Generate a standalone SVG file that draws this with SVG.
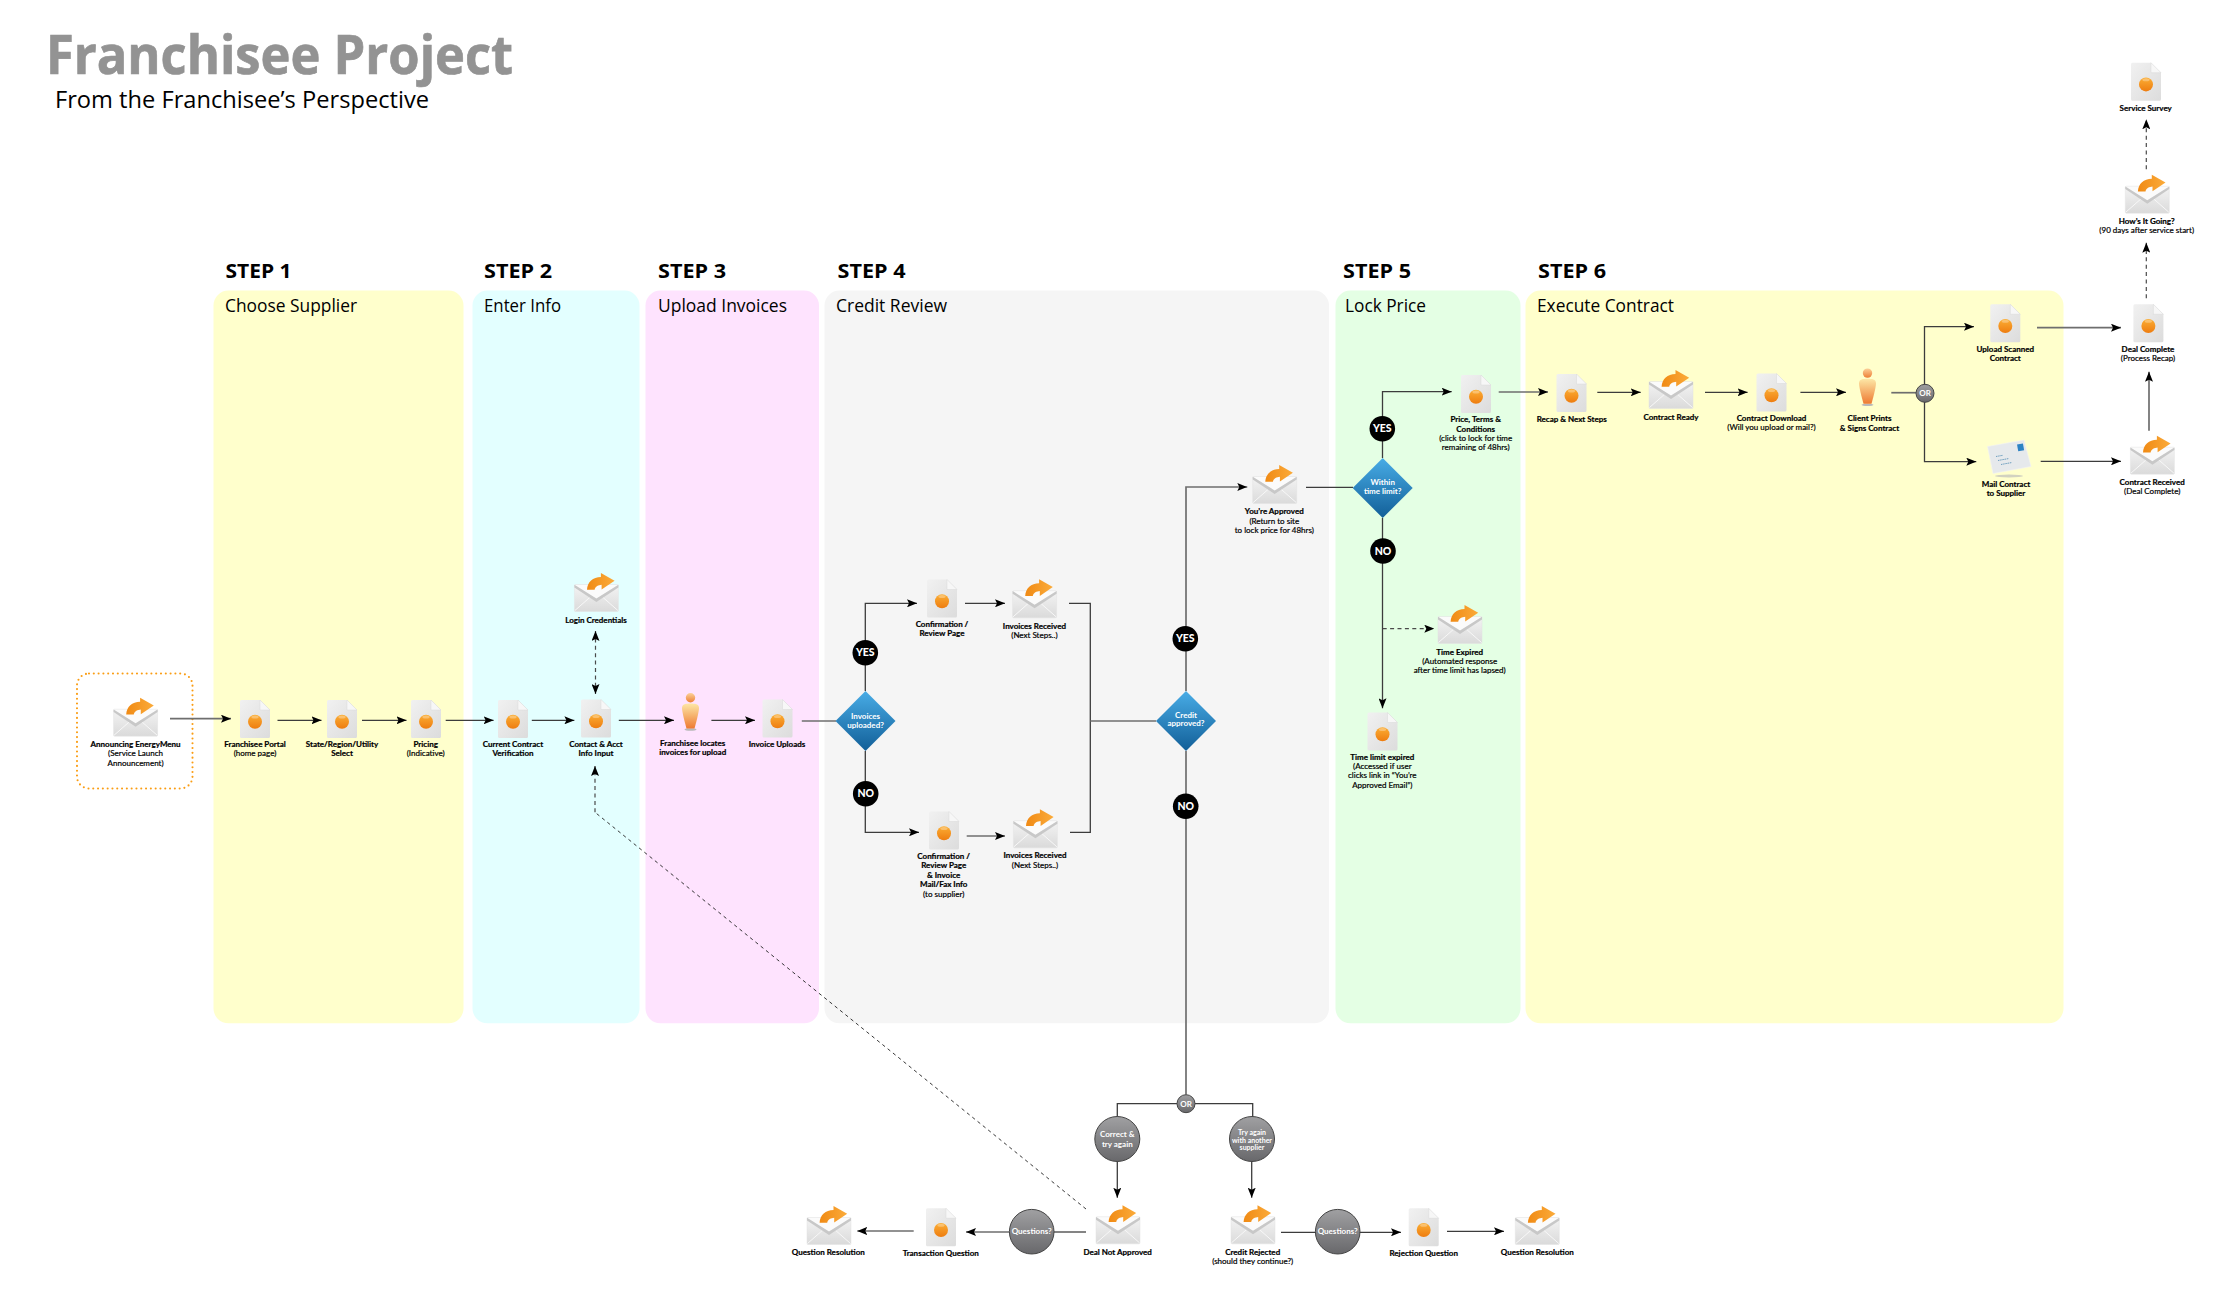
<svg xmlns="http://www.w3.org/2000/svg" xmlns:xlink="http://www.w3.org/1999/xlink" width="2236" height="1292" viewBox="0 0 2236 1292">
<style>
text{font-family:"Lato","Liberation Sans",sans-serif;fill:#000}
.l{font-size:8px;font-weight:700;text-anchor:middle;stroke:#000;stroke-width:.2}
.s{font-size:8px;font-weight:400;text-anchor:middle;stroke:#000;stroke-width:.2}
.w{font-size:8px;font-weight:700;text-anchor:middle;fill:#fff}
.bw{font-size:10.5px;font-weight:900;text-anchor:middle;fill:#fff}
.h{font-family:"Open Sans","Noto Sans",sans-serif;font-size:20px;font-weight:700}
.t{font-family:"Open Sans","Noto Sans",sans-serif;font-size:18.5px;font-weight:400}
.c{fill:none;stroke:#3c3c3c;stroke-width:1.3}
.b{fill:none;stroke:#6e6e6e;stroke-width:1.7}
.d{fill:none;stroke:#4a4a4a;stroke-width:1.2;stroke-dasharray:4 3.4}
.dd{fill:none;stroke:#222;stroke-width:.9;stroke-dasharray:3.4 3.4}
.a{marker-end:url(#arrow)}
.aa{marker-end:url(#arrow);marker-start:url(#arrowS)}
.yn{fill:#000}
.gc{fill:url(#gGray);stroke:#444;stroke-width:1}
.dm{fill:url(#gBlue)}
</style>
<defs>
<linearGradient id="gEnv" x1="0" y1="0" x2="0" y2="1"><stop offset="0" stop-color="#f4f4f4"/><stop offset="1" stop-color="#dadada"/></linearGradient>
<linearGradient id="gDoc" x1="0" y1="0" x2="1" y2="1"><stop offset="0" stop-color="#f1f1f1"/><stop offset="1" stop-color="#dcdcdc"/></linearGradient>
<linearGradient id="gOr" x1="0" y1="0" x2="0" y2="1"><stop offset="0" stop-color="#fbae35"/><stop offset="1" stop-color="#ee7d10"/></linearGradient>
<linearGradient id="gArr" x1="0" y1="0" x2="1" y2="0"><stop offset="0" stop-color="#f08a14"/><stop offset="1" stop-color="#fbab3a"/></linearGradient>
<linearGradient id="gBlue" x1="0" y1="0" x2="0" y2="1"><stop offset="0" stop-color="#48ace6"/><stop offset="1" stop-color="#125f98"/></linearGradient>
<linearGradient id="gGray" x1="0" y1="0" x2="0" y2="1"><stop offset="0" stop-color="#a0a0a2"/><stop offset="1" stop-color="#68686b"/></linearGradient>
<linearGradient id="gBody" x1="0" y1="0" x2="0" y2="1"><stop offset="0" stop-color="#fde7a6"/><stop offset="1" stop-color="#ee7a32"/></linearGradient>
<linearGradient id="gHead" x1="0" y1="0" x2="0" y2="1"><stop offset="0" stop-color="#fbd199"/><stop offset="1" stop-color="#ee7f35"/></linearGradient>
<marker id="arrow" viewBox="0 0 10 8" refX="10" refY="4" markerWidth="10" markerHeight="8" markerUnits="userSpaceOnUse" orient="auto"><path d="M0,0L10,4L0,8L2,4z" fill="#000"/></marker>
<marker id="arrowS" viewBox="0 0 10 8" refX="0" refY="4" markerWidth="10" markerHeight="8" markerUnits="userSpaceOnUse" orient="auto"><path d="M10,0L0,4L10,8L8,4z" fill="#000"/></marker>
<g id="env">
<rect x="0" y="11.5" width="44" height="27" rx="1" fill="url(#gEnv)" stroke="#e2e2e2" stroke-width=".5"/>
<path d="M.5,12L22,26L43.5,12z" fill="#fbfbfb"/>
<path d="M.5,37.5L17,23M43.5,37.5L27,23" fill="none" stroke="#f8f8f8" stroke-width="1"/>
<path d="M0,11.7L22,25.5L44,11.7V14.4L22,29L0,14.4z" fill="#c8c8c8"/>
<path d="M12.6,16.8C13,9 18.5,4.2 26.5,4V0L40.2,7.8L27.2,16.6V11.8C24,12 21,13.5 20.2,16.8z" fill="url(#gArr)"/>
</g>
<g id="doc">
<path d="M1.5,0H20L30,10V36.5a1.5,1.5 0 0 1-1.5,1.5H1.5A1.5,1.5 0 0 1 0,36.5V1.5A1.5,1.5 0 0 1 1.5,0z" fill="url(#gDoc)"/>
<path d="M20,0L30,10H20z" fill="#f7f7f7" stroke="#d8d8d8" stroke-width=".5"/>
<circle cx="15" cy="21.7" r="7" fill="url(#gOr)"/>
<ellipse cx="15" cy="17" rx="3.6" ry="1.5" fill="#fff" opacity=".3"/>
</g>
<g id="person">
<ellipse cx="8.5" cy="36.5" rx="6" ry="1.3" fill="#b9b9b9"/>
<circle cx="8.5" cy="4.8" r="4.7" fill="url(#gHead)"/>
<path d="M0,15C0,11 4,10.5 8.5,10.5S17,11 17,15C17,19 14,30 12.5,35.5H4.5C3,30 0,19 0,15z" fill="url(#gBody)"/>
</g>
</defs>
<rect width="2236" height="1292" fill="#fff"/>

<g id="title">
<text x="46" y="74" font-size="54.6" font-weight="700" style="fill:#939393;stroke:#939393;stroke-width:.7;font-family:'Open Sans','Noto Sans',sans-serif" textLength="467" lengthAdjust="spacingAndGlyphs">Franchisee Project</text>
<text x="55" y="108.3" font-size="23.5" style="font-family:'Open Sans','Noto Sans',sans-serif" textLength="374" lengthAdjust="spacingAndGlyphs">From the Franchisee’s Perspective</text>
</g>

<g id="panels">
<rect x="213.5" y="290.5" width="250" height="732.8" rx="15" fill="#ffffcc"/>
<rect x="472.5" y="290.5" width="167" height="732.8" rx="15" fill="#e3ffff"/>
<rect x="645.5" y="290.5" width="173.5" height="732.8" rx="15" fill="#fee3fe"/>
<rect x="824.5" y="290.5" width="504.5" height="732.8" rx="15" fill="#f5f5f5"/>
<rect x="1335.5" y="290.5" width="185" height="732.8" rx="15" fill="#e4ffe4"/>
<rect x="1525.5" y="290.5" width="538" height="732.8" rx="15" fill="#ffffcc"/>
<text class="h" x="225.5" y="277.5" textLength="66" lengthAdjust="spacingAndGlyphs">STEP 1</text>
<text class="h" x="484" y="277.5" textLength="68" lengthAdjust="spacingAndGlyphs">STEP 2</text>
<text class="h" x="658" y="277.5" textLength="68" lengthAdjust="spacingAndGlyphs">STEP 3</text>
<text class="h" x="837.5" y="277.5" textLength="68" lengthAdjust="spacingAndGlyphs">STEP 4</text>
<text class="h" x="1343" y="277.5" textLength="68" lengthAdjust="spacingAndGlyphs">STEP 5</text>
<text class="h" x="1538" y="277.5" textLength="68" lengthAdjust="spacingAndGlyphs">STEP 6</text>
<text class="t" x="225" y="311.7" textLength="132" lengthAdjust="spacingAndGlyphs">Choose Supplier</text>
<text class="t" x="484" y="311.7" textLength="77" lengthAdjust="spacingAndGlyphs">Enter Info</text>
<text class="t" x="658" y="311.7" textLength="129" lengthAdjust="spacingAndGlyphs">Upload Invoices</text>
<text class="t" x="836" y="311.7" textLength="111" lengthAdjust="spacingAndGlyphs">Credit Review</text>
<text class="t" x="1345" y="311.7" textLength="81" lengthAdjust="spacingAndGlyphs">Lock Price</text>
<text class="t" x="1537" y="311.7" textLength="137" lengthAdjust="spacingAndGlyphs">Execute Contract</text>
</g>

<rect id="start-frame" x="77" y="673.5" width="115.5" height="115" rx="12" fill="none" stroke="#fa9d14" stroke-width="2.1" stroke-linecap="round" stroke-dasharray="0 4.8"/>

<g id="connectors">
<path class="b a" d="M170,718.7H231"/>
<path class="c a" d="M277.5,720.3H321.5"/>
<path class="c a" d="M362,720.3H406.5"/>
<path class="c a" d="M445.7,720.3H493.6"/>
<path class="c a" d="M531.8,720.3H574.4"/>
<path class="d aa" d="M595.5,631V694"/>
<path class="c a" d="M618.8,720.3H674"/>
<path class="c a" d="M711.4,720.3H755"/>
<path class="b" d="M801.8,721H836"/>
<path class="c a" d="M865.3,691V603.3H917"/>
<path class="c a" d="M865.3,751V832.3H919"/>
<path class="c a" d="M965,603.3H1005"/>
<path class="b a" d="M966.7,836H1005"/>
<path class="c" d="M1069,603.3H1090.3V832.3H1070"/>
<path class="b" d="M1090.3,721H1156"/>
<path class="b a" d="M1186,691V487H1247.3"/>
<path class="b" d="M1186,751V1094.5"/>
<path class="c" d="M1306,487.3H1353"/>
<path class="c a" d="M1382.5,458V391.7H1451.7"/>
<path class="c a" d="M1382.5,518V708.3"/>
<path class="d a" d="M1382.7,628.7H1434.3"/>
<path class="b a" d="M1498.7,392H1548"/>
<path class="c a" d="M1597.3,392.3H1640.7"/>
<path class="c a" d="M1705,392.3H1747.6"/>
<path class="c a" d="M1800.4,392.3H1846"/>
<path class="b" d="M1891.3,392.7H1916"/>
<path class="c a" d="M1924.5,384.5V326.7H1974"/>
<path class="c a" d="M1924.5,402V461.7H1976.3"/>
<path class="c a" d="M2040.7,461.3H2121"/>
<path class="b a" d="M2037,327.7H2121"/>
<path class="b a" d="M2149,430.7V371.7"/>
<path class="d a" d="M2146.3,298.3V242.7"/>
<path class="d a" d="M2146.3,169.3V119.3"/>
<path class="c" d="M1177,1103.7H1117.3V1117"/>
<path class="c" d="M1195,1103.7H1252.7V1117"/>
<path class="c a" d="M1117.3,1161V1197.7"/>
<path class="c a" d="M1251.7,1161V1197.7"/>
<path class="dd" d="M1086,1209L595,812.3"/>
<path class="d a" d="M595,812.3V766"/>
<path class="b" d="M1086,1232H1054"/>
<path class="b a" d="M1009.3,1232H966"/>
<path class="b a" d="M913.7,1231H857.3"/>
<path class="c a" d="M1281,1232.3H1401"/>
<path class="c a" d="M1447,1231.3H1504"/>
</g>

<g id="n-announcing"><use href="#env" x="113.6" y="697.7"/><text class="l" x="135.6" y="746.7">Announcing EnergyMenu</text><text class="s" x="135.6" y="756.2">(Service Launch</text><text class="s" x="135.6" y="766.2">Announcement)</text></g>
<g id="n-portal"><use href="#doc" x="240" y="700"/><text class="l" x="255" y="746.7">Franchisee Portal</text><text class="s" x="255" y="756.2">(home page)</text></g>
<g id="n-state"><use href="#doc" x="327" y="700"/><text class="l" x="342" y="746.7">State/Region/Utility</text><text class="l" x="342" y="756.2">Select</text></g>
<g id="n-pricing"><use href="#doc" x="411" y="700"/><text class="l" x="425.7" y="746.7">Pricing</text><text class="s" x="425.7" y="756.2">(Indicative)</text></g>
<g id="n-current"><use href="#doc" x="498" y="700"/><text class="l" x="513" y="746.7">Current Contract</text><text class="l" x="513" y="756.2">Verification</text></g>
<g id="n-login"><use href="#env" x="574.4" y="573"/><text class="l" x="596" y="622.7">Login Credentials</text></g>
<g id="n-contact"><use href="#doc" x="581" y="699.5"/><text class="l" x="596" y="746.7">Contact &amp; Acct</text><text class="l" x="596" y="756">Info Input</text></g>
<g id="n-locates"><use href="#person" x="682" y="693"/><text class="l" x="692.7" y="745.7">Franchisee locates</text><text class="l" x="692.7" y="755">invoices for upload</text></g>
<g id="n-uploads"><use href="#doc" x="762.5" y="699.5"/><text class="l" x="777" y="746.7">Invoice Uploads</text></g>
<g id="d-invoices"><polygon class="dm" points="865.5,691 895.5,721 865.5,751 835.5,721"/><text class="w" x="865.5" y="718.7">Invoices</text><text class="w" x="865.5" y="727.7">uploaded?</text></g>
<g id="yes-1"><circle class="yn" cx="865.3" cy="652.7" r="12.8"/><text class="bw" x="865.3" y="656.4">YES</text></g>
<g id="no-1"><circle class="yn" cx="865.7" cy="793.7" r="12.8"/><text class="bw" x="865.7" y="797.4">NO</text></g>
<g id="n-conf1"><use href="#doc" x="927" y="579.5"/><text class="l" x="942" y="627">Confirmation /</text><text class="l" x="942" y="636">Review Page</text></g>
<g id="n-inv1"><use href="#env" x="1012.6" y="579.3"/><text class="l" x="1034.4" y="628.7">Invoices Received</text><text class="s" x="1034.4" y="638">(Next Steps..)</text></g>
<g id="n-conf2"><use href="#doc" x="929" y="811.5"/><text class="l" x="943.7" y="858.7">Confirmation /</text><text class="l" x="943.7" y="868">Review Page</text><text class="l" x="943.7" y="877.7">&amp; Invoice</text><text class="l" x="943.7" y="886.7">Mail/Fax Info</text><text class="s" x="943.7" y="897">(to supplier)</text></g>
<g id="n-inv2"><use href="#env" x="1013.4" y="809.3"/><text class="l" x="1035" y="857.7">Invoices Received</text><text class="s" x="1035" y="868">(Next Steps..)</text></g>
<g id="d-credit"><polygon class="dm" points="1186,691 1216,721 1186,751 1156,721"/><text class="w" x="1186" y="717.7">Credit</text><text class="w" x="1186" y="726">approved?</text></g>
<g id="yes-2"><circle class="yn" cx="1185.3" cy="638.7" r="12.8"/><text class="bw" x="1185.3" y="642.4">YES</text></g>
<g id="no-2"><circle class="yn" cx="1185.7" cy="806.3" r="12.8"/><text class="bw" x="1185.7" y="810">NO</text></g>
<g id="n-approved"><use href="#env" x="1252.7" y="465"/><text class="l" x="1274.3" y="513.7">You’re Approved</text><text class="s" x="1274.3" y="523.7">(Return to site</text><text class="s" x="1274.3" y="532.7">to lock price for 48hrs)</text></g>
<g id="d-within"><polygon class="dm" points="1382.7,458 1412.7,488 1382.7,518 1352.7,488"/><text class="w" x="1382.7" y="485">Within</text><text class="w" x="1382.7" y="494">time limit?</text></g>
<g id="yes-3"><circle class="yn" cx="1382.3" cy="428.7" r="12.8"/><text class="bw" x="1382.3" y="432.4">YES</text></g>
<g id="no-3"><circle class="yn" cx="1383" cy="551" r="12.8"/><text class="bw" x="1383" y="554.7">NO</text></g>
<g id="n-price"><use href="#doc" x="1461" y="375"/><text class="l" x="1475.7" y="421.7">Price, Terms &amp;</text><text class="l" x="1475.7" y="431.7">Conditions</text><text class="s" x="1475.7" y="440.7">(click to lock for time</text><text class="s" x="1475.7" y="449.7">remaining of 48hrs)</text></g>
<g id="n-expired"><use href="#env" x="1438" y="605"/><text class="l" x="1459.7" y="654.7">Time Expired</text><text class="s" x="1459.7" y="663.7">(Automated response</text><text class="s" x="1459.7" y="672.7">after time limit has lapsed)</text></g>
<g id="n-limit"><use href="#doc" x="1367.5" y="712.5"/><text class="l" x="1382.3" y="759.7">Time limit expired</text><text class="s" x="1382.3" y="768.7">(Accessed if user</text><text class="s" x="1382.3" y="777.7">clicks link in “You’re</text><text class="s" x="1382.3" y="788">Approved Email”)</text></g>
<g id="n-recap"><use href="#doc" x="1556.5" y="374"/><text class="l" x="1571.7" y="421.7">Recap &amp; Next Steps</text></g>
<g id="n-ready"><use href="#env" x="1649" y="370"/><text class="l" x="1671" y="420">Contract Ready</text></g>
<g id="n-download"><use href="#doc" x="1756.5" y="373.5"/><text class="l" x="1771.5" y="421">Contract Download</text><text class="s" x="1771.5" y="430">(Will you upload or mail?)</text></g>
<g id="n-prints"><use href="#person" x="1859" y="368.3"/><text class="l" x="1869.5" y="421">Client Prints</text><text class="l" x="1869.5" y="431">&amp; Signs Contract</text></g>
<g id="or-1"><circle class="gc" cx="1925" cy="393.3" r="9"/><text class="w" x="1925" y="396.2">OR</text></g>
<g id="n-upload"><use href="#doc" x="1990.3" y="304.3"/><text class="l" x="2005.3" y="352">Upload Scanned</text><text class="l" x="2005.3" y="361">Contract</text></g>
<g id="n-mail">
<ellipse cx="2009" cy="476" rx="14" ry="1.4" fill="#d2d2c0"/>
<polygon points="1987.5,446.5 2024,440 2031,466.5 1993,473.5" fill="#e6e9ec" stroke="#f4f4f4" stroke-width=".6"/>
<rect x="2017.5" y="444" width="6" height="7" fill="#2d83c4" transform="rotate(-10 2020 447)"/>
<path d="M1996,456.5l7,-1.2M1998,460.5l11,-2M2001,464.5l11,-2" fill="none" stroke="#4f8ab2" stroke-width=".8" stroke-dasharray="1.5 .7"/>
<text class="l" x="2006" y="487">Mail Contract</text><text class="l" x="2006" y="496">to Supplier</text></g>
<g id="n-received"><use href="#env" x="2130.4" y="435.7"/><text class="l" x="2152.2" y="485">Contract Received</text><text class="s" x="2152.2" y="494">(Deal Complete)</text></g>
<g id="n-deal"><use href="#doc" x="2133.4" y="304.3"/><text class="l" x="2148" y="352">Deal Complete</text><text class="s" x="2148" y="361">(Process Recap)</text></g>
<g id="n-going"><use href="#env" x="2125.3" y="174.7"/><text class="l" x="2146.7" y="223.7">How’s It Going?</text><text class="s" x="2146.7" y="233">(90 days after service start)</text></g>
<g id="n-survey"><use href="#doc" x="2131" y="62.7"/><text class="l" x="2145.7" y="110.7">Service Survey</text></g>
<g id="or-2"><circle class="gc" cx="1186" cy="1103.7" r="9"/><text class="w" x="1186" y="1106.6">OR</text></g>
<g id="c-correct"><circle class="gc" cx="1117.3" cy="1139" r="22.5"/><text class="w" x="1117.3" y="1137.3">Correct &amp;</text><text class="w" x="1117.3" y="1147.3">try again</text></g>
<g id="c-tryagain"><circle class="gc" cx="1252" cy="1139" r="22.5"/><text class="w" x="1252" y="1135.2" style="font-size:7px">Try again</text><text class="w" x="1252" y="1143.2" style="font-size:7px">with another</text><text class="w" x="1252" y="1150.2" style="font-size:7px">supplier</text></g>
<g id="n-dealnot"><use href="#env" x="1096" y="1205.3"/><text class="l" x="1117.7" y="1254.7">Deal Not Approved</text></g>
<g id="c-q1"><circle class="gc" cx="1031.7" cy="1231.7" r="22.3"/><text class="w" x="1031.7" y="1234.2">Questions?</text></g>
<g id="n-transaction"><use href="#doc" x="926" y="1208.3"/><text class="l" x="940.7" y="1255.7">Transaction Question</text></g>
<g id="n-qres1"><use href="#env" x="807" y="1206"/><text class="l" x="828.3" y="1254.7">Question Resolution</text></g>
<g id="n-rejected"><use href="#env" x="1231" y="1205.3"/><text class="l" x="1252.7" y="1254.7">Credit Rejected</text><text class="s" x="1252.7" y="1264">(should they continue?)</text></g>
<g id="c-q2"><circle class="gc" cx="1337.7" cy="1231.7" r="22.3"/><text class="w" x="1337.7" y="1234.2">Questions?</text></g>
<g id="n-rejection"><use href="#doc" x="1408.7" y="1208.3"/><text class="l" x="1423.7" y="1255.7">Rejection Question</text></g>
<g id="n-qres2"><use href="#env" x="1515.3" y="1206"/><text class="l" x="1537.3" y="1254.7">Question Resolution</text></g>
</svg>
